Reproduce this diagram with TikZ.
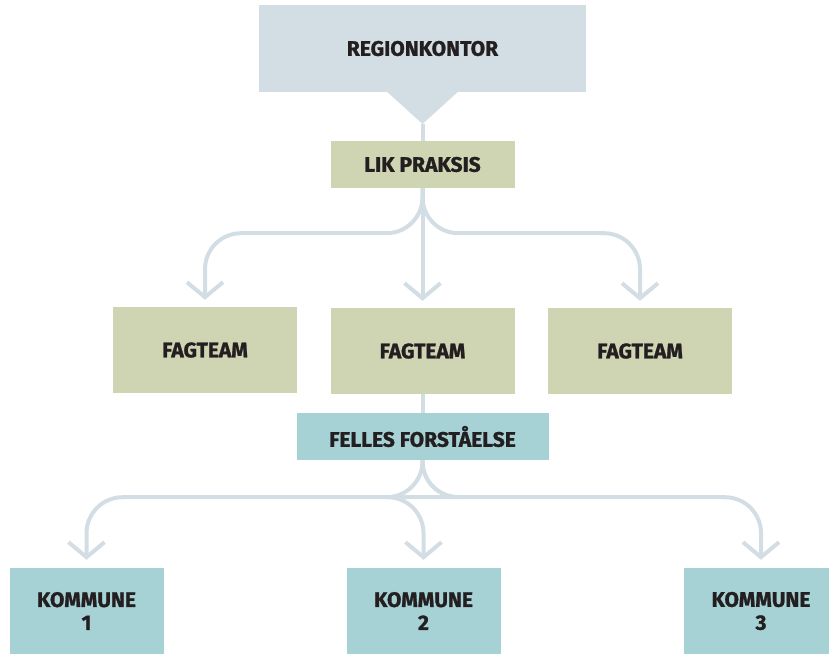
\documentclass[tikz,border=0pt]{standalone}
\usepackage{fontspec}
\setmainfont{Fira Sans}[BoldFeatures={FakeBold=1.2}]
\usepackage{tikz}
\usetikzlibrary{arrows.meta}
\usetikzlibrary{positioning}
\definecolor{regiongrey}{HTML}{D3DEE4}
\definecolor{praksisgreen}{HTML}{CFD5B2}
\definecolor{kommuneteal}{HTML}{A6D1D5}
\definecolor{inktext}{HTML}{231F20}
\tikzstyle{box}=[rectangle,inner sep=0pt,align=center,text=inktext,font=\bfseries\fontsize{21}{23}\selectfont]
\tikzstyle{regionbox}=[box,fill=regiongrey,minimum width=327pt,minimum height=87pt]
\tikzstyle{greenbox}=[box,fill=praksisgreen,minimum width=184pt]
\tikzstyle{tealbox}=[box,fill=kommuneteal]
\tikzstyle{link}=[draw,regiongrey,line width=4pt]
\tikzstyle{arrowlink}=[link,rounded corners=36pt,-{Straight Barb[length=15pt,width=36pt]}]

\begin{document}
\begin{tikzpicture}[x=1pt,y=-1pt]
    \clip (0,0) rectangle (829,653);
    % First we draw the boxes
    \node[regionbox] (region) at (422.5,48.5) {REGIONKONTOR};
    \coordinate (tip) at (422.5,124);
    \fill[regiongrey] ([xshift=-35pt]region.south) -- (tip) -- ([xshift=35pt]region.south) -- cycle;
    \node[greenbox,minimum height=47pt] (lik) at (422.5,164.5) {LIK PRAKSIS};
    \foreach \pos/\name in {{(205,350)/fag1}, {(422.5,351)/fag2}, {(640,351)/fag3}}
        \node[greenbox,minimum height=86pt] (\name) at \pos {FAGTEAM};
    \node[tealbox,minimum width=252pt,minimum height=47pt] (felles) at (422.5,436.5) {FELLES FORSTÅELSE};
    \foreach \pos/\name/\nr in {{(86.5,611)/kom1/1}, {(423.5,611)/kom2/2}, {(761,611)/kom3/3}}
        \node[tealbox,minimum width=154pt,minimum height=86pt] (\name) at \pos {KOMMUNE\\\nr};

    % Connect the boxes
    \path[link] (tip) -- (lik.north);
    \path[link] (fag2.south) -- (felles.north);
    \foreach \dest in {fag1, fag2, fag3}
        \path[arrowlink,shorten >=7pt] (lik.south) -- ++(0,45) -| (\dest.north);
    \foreach \dest in {kom1, kom2, kom3}
        \path[arrowlink,shorten >=8pt] (felles.south) -- ++(0,37) -| (\dest.north);
\end{tikzpicture}
\end{document}
